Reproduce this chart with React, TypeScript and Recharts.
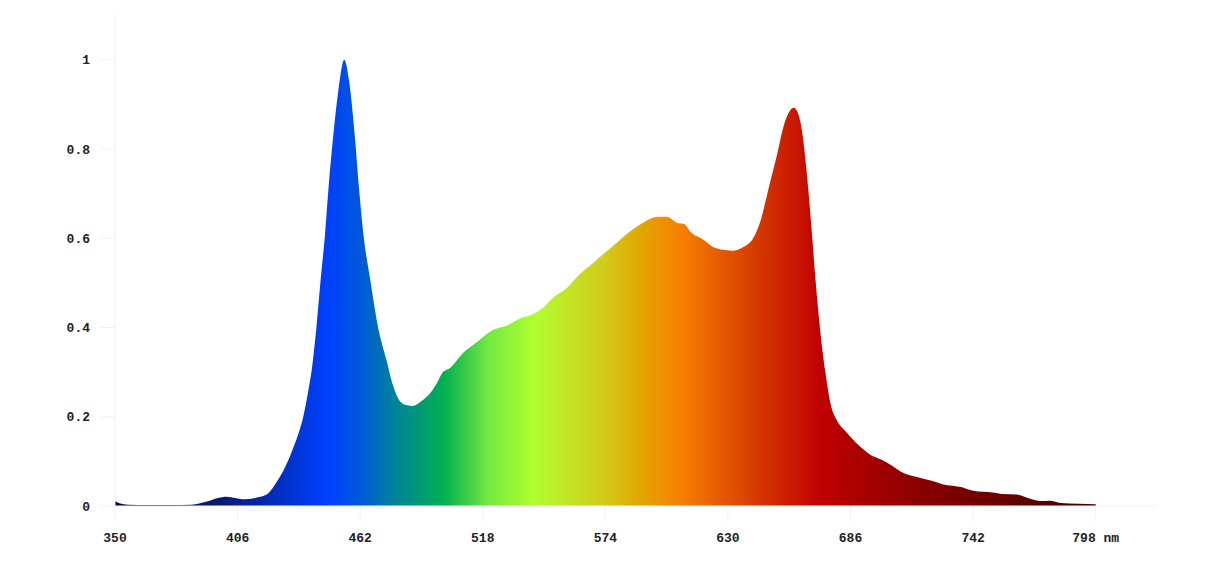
import { Area, AreaChart, XAxis, YAxis } from "recharts";

const wavelengths = [
  350, 352, 356, 365, 375, 385, 392, 397, 401, 405, 409, 414, 419, 424, 428,
  431, 434, 436, 438, 440, 442, 444, 446, 447.5, 449.5, 452, 454.7, 457, 459.7,
  461.5, 463.4, 466.6, 470.2, 474, 477, 480, 483, 486, 490, 494, 497, 499.5,
  503, 509, 515.5, 522.8, 529, 535, 540, 546, 550, 557, 561, 568.5, 578, 585,
  591, 598, 602, 607, 610, 613, 619, 623, 628, 632.5, 637, 641.5, 645, 649,
  652.6, 655.4, 658, 660, 662, 663.5, 666.3, 668.6, 670, 672, 674.5, 677, 680,
  684, 690, 695, 700, 705, 709, 718, 722.6, 728, 737, 742, 751, 755, 762, 767,
  773, 777, 782, 790, 798,
];

const intensity = [
  0.011, 0.006, 0.003, 0.002, 0.002, 0.003, 0.01, 0.018, 0.021, 0.018, 0.015,
  0.018, 0.025, 0.055, 0.09, 0.125, 0.165, 0.2, 0.25, 0.31, 0.4, 0.51, 0.612,
  0.71, 0.82, 0.93, 1.0, 0.95, 0.82, 0.71, 0.612, 0.507, 0.4, 0.327, 0.27,
  0.236, 0.226, 0.224, 0.235, 0.253, 0.275, 0.298, 0.309, 0.343, 0.368, 0.395,
  0.404, 0.42, 0.428, 0.446, 0.466, 0.491, 0.513, 0.545, 0.585, 0.614, 0.634,
  0.648, 0.648, 0.634, 0.632, 0.614, 0.596, 0.581, 0.574, 0.572, 0.58, 0.6,
  0.641, 0.72, 0.79, 0.85, 0.883, 0.892, 0.88, 0.85, 0.731, 0.596, 0.507, 0.4,
  0.3, 0.226, 0.19, 0.166, 0.135, 0.115, 0.104, 0.09, 0.077, 0.063, 0.057,
  0.049, 0.042, 0.034, 0.03, 0.027, 0.026, 0.018, 0.011, 0.012, 0.007, 0.005,
  0.004,
];

const xTicks = [350, 406, 462, 518, 574, 630, 686, 742, 798];
const yTicks = [0, 0.2, 0.4, 0.6, 0.8, 1];

// spectrum colours by wavelength (nm)
const spectrumStops: [number, string][] = [
  [350, "#000a4a"],
  [400, "#0a1a7a"],
  [425, "#0030c0"],
  [447, "#0040ff"],
  [462, "#0058d8"],
  [476, "#007fa0"],
  [500, "#00b050"],
  [520, "#70e840"],
  [541, "#b0ff30"],
  [575, "#d4c818"],
  [590, "#e0a800"],
  [608, "#f78000"],
  [640, "#d84000"],
  [672, "#c00000"],
  [720, "#880000"],
  [798, "#400000"],
];

const data = wavelengths.map((nm, i) => ({ nm, value: intensity[i] }));

const FONT = "'Liberation Mono', 'Courier New', monospace";
const AXIS = "#f2f2f2";

// last tick carries the unit
const XTick = ({ x, y, payload }: any) => (
  <text
    x={x}
    y={y + 18}
    textAnchor="middle"
    fill="#222"
    fontFamily={FONT}
    fontSize={13}
    fontWeight="bold"
  >
    {payload.value === 798 ? `${payload.value} nm` : payload.value}
  </text>
);

export default function App() {
  const first = wavelengths[0];
  const span = wavelengths[wavelengths.length - 1] - first;
  return (
    <div style={{ position: "absolute", left: 0, top: 0, background: "#fff" }}>
      <AreaChart
        width={1217}
        height={575}
        data={data}
        margin={{ top: 15, right: 60, bottom: 0, left: 0 }}
      >
        <defs>
          <linearGradient id="spec" x1="0" y1="0" x2="1" y2="0">
            {spectrumStops.map(([nm, c]) => (
              <stop key={nm} offset={(nm - first) / span} stopColor={c} />
            ))}
          </linearGradient>
        </defs>
        <XAxis
          dataKey="nm"
          type="number"
          domain={[350, 826]}
          ticks={xTicks}
          interval={0}
          height={69}
          tickSize={16}
          axisLine={{ stroke: AXIS }}
          tickLine={{ stroke: AXIS }}
          tick={<XTick />}
        />
        <YAxis
          type="number"
          domain={[0, 1.1]}
          ticks={yTicks}
          width={115}
          tickSize={15}
          tickMargin={10}
          axisLine={{ stroke: AXIS }}
          tickLine={{ stroke: AXIS }}
          tick={{
            fill: "#222",
            fontFamily: FONT,
            fontSize: 13,
            fontWeight: "bold",
          }}
        />
        <Area
          type="monotone"
          dataKey="value"
          stroke="none"
          fill="url(#spec)"
          fillOpacity={1}
          isAnimationActive={false}
        />
      </AreaChart>
    </div>
  );
}
